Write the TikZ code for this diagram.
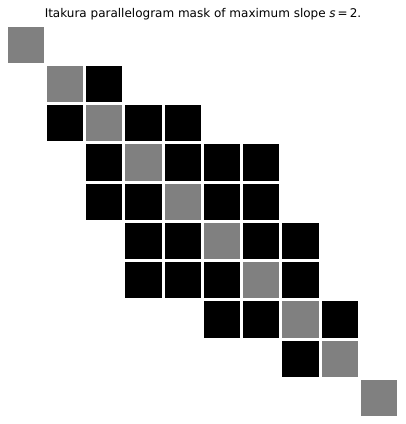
\documentclass[tikz,border=0pt]{standalone}
\usepackage{fontspec}
\setmainfont{DejaVu Sans}
\begin{document}
\begin{tikzpicture}[x=1pt,y=-1pt,
  cell/.style={draw=white,line width=3pt,minimum size=39.25pt,inner sep=0pt,outer sep=0pt,fill=#1},
  title/.style={font=\fontsize{12}{14}\selectfont,inner sep=0pt,anchor=base}]
\useasboundingbox (0,0) rectangle (406,424);
\node[title] (title) at (203,17) {Itakura parallelogram mask of maximum slope {\itshape s}\,=\,2.};
\foreach \r/\c/\col in {0/0/gray,
  1/1/gray,1/2/black,
  2/1/black,2/2/gray,2/3/black,2/4/black,
  3/2/black,3/3/gray,3/4/black,3/5/black,3/6/black,
  4/2/black,4/3/black,4/4/gray,4/5/black,4/6/black,
  5/3/black,5/4/black,5/5/gray,5/6/black,5/7/black,
  6/3/black,6/4/black,6/5/black,6/6/gray,6/7/black,
  7/5/black,7/6/black,7/7/gray,7/8/black,
  8/7/black,8/8/gray,
  9/9/gray}
  \node[cell=\col] (c\r-\c) at ({6+(\c+0.5)*39.25},{25+(\r+0.5)*39.25}) {};
\end{tikzpicture}
\end{document}
